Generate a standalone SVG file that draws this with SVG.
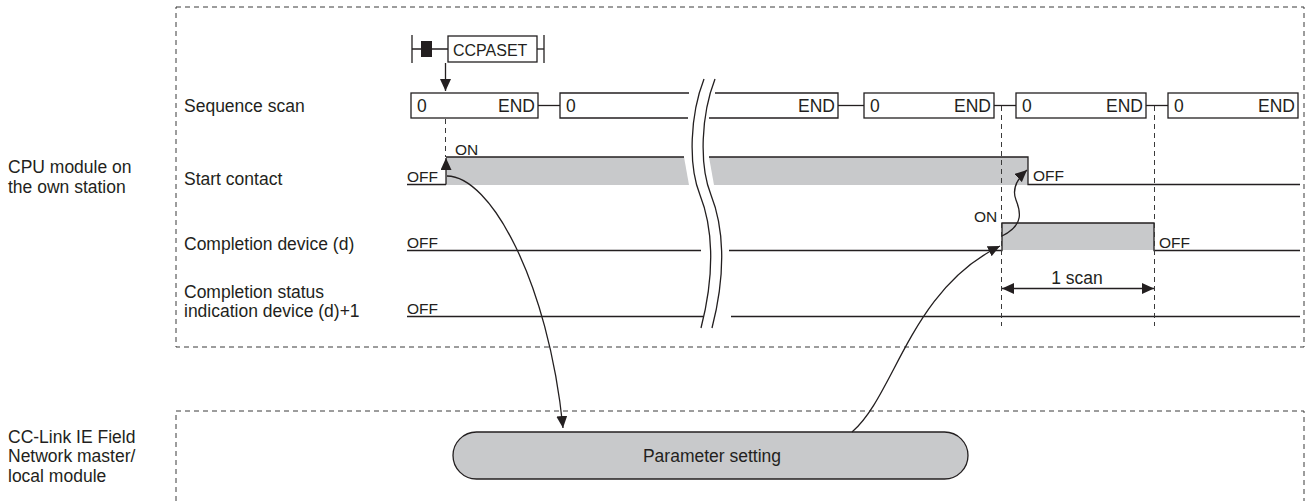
<svg xmlns="http://www.w3.org/2000/svg" width="1310" height="501" viewBox="0 0 1310 501">
<style>
text{font-family:"Liberation Sans",Arial,sans-serif;fill:#231f20}
.lbl{font-size:17.5px}
.sm{font-size:15.5px}
.cc{font-size:16px}
.ln{stroke:#231f20;stroke-width:1.3;fill:none}
.box{stroke:#231f20;stroke-width:1.3;fill:#fff}
.dash{stroke:#3a3a3a;stroke-width:1;fill:none;stroke-dasharray:5 4}
.gray{fill:#c8c9cb}
</style>
<defs>
<marker id="ah" markerWidth="12" markerHeight="11" refX="12" refY="5.5" orient="auto-start-reverse" markerUnits="userSpaceOnUse">
<path d="M0,0 L12,5.5 L0,11 z" fill="#231f20"/>
</marker>
</defs>
<rect width="1310" height="501" fill="#fff"/>

<g id="frames">
<rect class="dash" x="176" y="7" width="1128" height="340"/>
<rect class="dash" x="176" y="411" width="1128" height="96"/>
</g>

<g id="side-labels">
<text class="lbl" x="8" y="173">CPU module on</text>
<text class="lbl" x="8" y="192.5">the own station</text>
<text class="lbl" x="8" y="442.5">CC-Link IE Field</text>
<text class="lbl" x="8" y="462">Network master/</text>
<text class="lbl" x="8" y="481.5">local module</text>
</g>

<g id="row-labels">
<text class="lbl" x="184" y="112">Sequence scan</text>
<text class="lbl" x="184" y="185">Start contact</text>
<text class="lbl" x="184" y="250">Completion device (d)</text>
<text class="lbl" x="184" y="298">Completion status</text>
<text class="lbl" x="184" y="317">indication device (d)+1</text>
</g>

<g id="ccpaset">
<line class="ln" x1="412" y1="35" x2="412" y2="63"/>
<line class="ln" x1="412" y1="49" x2="448" y2="49"/>
<rect x="421" y="41" width="11" height="16" fill="#231f20"/>
<rect class="box" x="448" y="36" width="89" height="26"/>
<text class="cc" x="453" y="55.5">CCPASET</text>
<line class="ln" x1="537" y1="49" x2="544" y2="49"/>
<line class="ln" x1="544" y1="35" x2="544" y2="63"/>
</g>

<g id="sequence-scan">
<rect class="box" x="411" y="93" width="127" height="25"/>
<text class="lbl" x="417" y="112">0</text>
<text class="lbl" x="535" y="112" text-anchor="end">END</text>
<path class="ln" d="M689,93 H560 V118 H688"/>
<text class="lbl" x="566" y="112">0</text>
<path class="ln" d="M715,93 H838 V118 H709"/>
<text class="lbl" x="835" y="112" text-anchor="end">END</text>
<rect class="box" x="864" y="93" width="130" height="25"/>
<text class="lbl" x="870" y="112">0</text>
<text class="lbl" x="991" y="112" text-anchor="end">END</text>
<rect class="box" x="1016" y="93" width="130" height="25"/>
<text class="lbl" x="1022" y="112">0</text>
<text class="lbl" x="1143" y="112" text-anchor="end">END</text>
<rect class="box" x="1168" y="93" width="130" height="25"/>
<text class="lbl" x="1174" y="112">0</text>
<text class="lbl" x="1295" y="112" text-anchor="end">END</text>
<line class="ln" x1="538" y1="105.5" x2="560" y2="105.5"/>
<line class="ln" x1="838" y1="105.5" x2="864" y2="105.5"/>
<line class="ln" x1="994" y1="105.5" x2="1016" y2="105.5"/>
<line class="ln" x1="1146" y1="105.5" x2="1168" y2="105.5"/>
</g>

<g id="start-contact">
<polygon class="gray" points="446,157 684,157 689,185 446,185"/>
<polygon class="gray" points="709,157 1028,157 1028,185 714,185"/>
<line class="ln" x1="407" y1="184.5" x2="446" y2="184.5"/>
<line class="ln" x1="446" y1="157" x2="684" y2="157"/>
<path class="ln" d="M709,157 H1028 V184.5 H1300"/>
<text class="sm" x="455" y="155">ON</text>
<text class="sm" x="407" y="181.5">OFF</text>
<text class="sm" x="1033" y="181">OFF</text>
</g>

<g id="completion-device">
<rect class="gray" x="1002" y="223" width="152" height="27"/>
<path class="ln" d="M407,250.5 H701 M729,250.5 H1002 V223 H1154 V250.5 H1300"/>
<text class="sm" x="407" y="247.5">OFF</text>
<text class="sm" x="974" y="222">ON</text>
<text class="sm" x="1159" y="247.5">OFF</text>
</g>

<g id="completion-status">
<path class="ln" d="M407,316.5 H703 M731,316.5 H1300"/>
<text class="sm" x="407" y="313.5">OFF</text>
</g>

<g id="break">
<path d="M704,79 C690,115 688,165 700,195 C712,225 716,270 701,328 L712,328 C727,270 723,225 711,195 C699,165 701,115 715,79 Z" fill="#fff"/>
<path class="ln" d="M704,79 C690,115 688,165 700,195 C712,225 716,270 701,328"/>
<path class="ln" d="M715,79 C701,115 699,165 711,195 C723,225 727,270 712,328"/>
</g>

<g id="parameter-setting">
<rect x="453" y="432" width="515" height="47" rx="23.5" ry="23.5" fill="#c8c9cb" stroke="#231f20" stroke-width="1.3"/>
<text class="lbl" x="712" y="462" text-anchor="middle">Parameter setting</text>
</g>

<g id="connectors">
<line class="ln" x1="445.5" y1="63" x2="445.5" y2="91" marker-end="url(#ah)"/>
<line class="dash" x1="445.5" y1="119" x2="445.5" y2="157"/>
<line class="ln" x1="446" y1="184.5" x2="446" y2="158" marker-end="url(#ah)"/>
<line class="dash" x1="1001.5" y1="106" x2="1001.5" y2="326"/>
<line class="dash" x1="1154.5" y1="106" x2="1154.5" y2="326"/>
<path class="ln" d="M447,176 C490,176 548,280 563,428" marker-end="url(#ah)"/>
<path class="ln" d="M852,432 C895,395 910,290 1000,246" marker-end="url(#ah)"/>
<path class="ln" d="M1002,236 C1025,225 1020,210 1016,200 C1012,190 1016,180 1027,170" marker-end="url(#ah)"/>
<line class="ln" x1="1002" y1="288.5" x2="1154" y2="288.5" marker-start="url(#ah)" marker-end="url(#ah)"/>
<text class="lbl" x="1077" y="284" text-anchor="middle">1 scan</text>
</g>
</svg>
